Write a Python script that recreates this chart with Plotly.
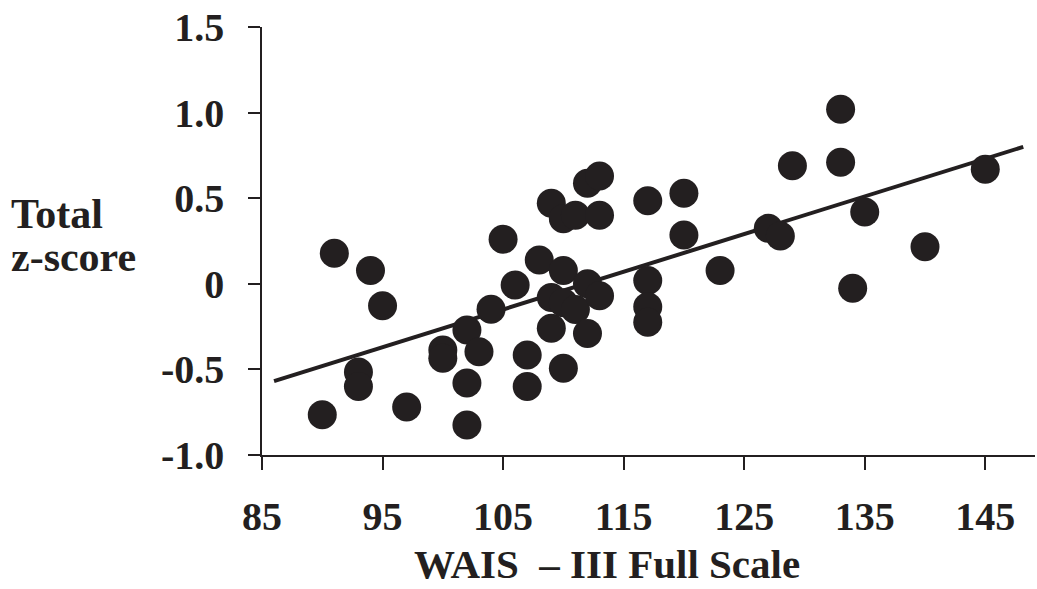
import plotly.graph_objects as go

# Data
wais = [90, 91, 93, 93, 94, 95, 97, 100, 100, 102, 103, 102, 102, 104, 105, 106,
        107, 107, 108, 109, 110, 109, 109, 110, 111, 112, 113, 113, 117, 110, 111,
        112, 113, 112, 110, 117, 117, 117, 120, 120, 123, 127, 128, 129, 133, 133,
        135, 134, 140, 145]
zscore = [-0.765, 0.178, -0.515, -0.60, 0.077, -0.128, -0.72, -0.387, -0.435, -0.27,
          -0.397, -0.58, -0.825, -0.149, 0.26, -0.007, -0.416, -0.60, 0.139, 0.47,
          0.077, -0.08, -0.26, 0.38, 0.40, 0.587, 0.63, 0.40, 0.485, -0.11, -0.15,
          0.0, -0.07, -0.29, -0.494, 0.02, -0.134, -0.225, 0.529, 0.285, 0.077,
          0.324, 0.279, 0.69, 1.019, 0.71, 0.42, -0.026, 0.217, 0.669]

fit_x = [86.0, 148.15]
fit_y = [-0.568, 0.80]

x_ticks = [85, 95, 105, 115, 125, 135, 145]
y_ticks = [-1.0, -0.5, 0.0, 0.5, 1.0, 1.5]
y_tick_labels = ["-1.0", "-0.5", "0", "0.5", "1.0", "1.5"]

INK = "#231f20"
FONT = "Liberation Serif"

fig = go.Figure()
fig.add_trace(go.Scatter(x=fit_x, y=fit_y, mode="lines",
                         line=dict(color=INK, width=4), hoverinfo="skip"))
fig.add_trace(go.Scatter(x=wais, y=zscore, mode="markers",
                         marker=dict(color=INK, size=29, line=dict(width=0))))

L, R, T, B = 262, 2, 27, 134
W, H = 1037, 589
pw, ph = W - L - R, H - T - B

def px(xp):
    return (xp - L) / pw

def py(yp):
    return (H - B - yp) / ph

fig.update_layout(
    width=W, height=H,
    margin=dict(l=L, r=R, t=T, b=B, autoexpand=False),
    paper_bgcolor="white", plot_bgcolor="white",
    showlegend=False,
    font=dict(family=FONT, color=INK),
    xaxis=dict(range=[85, 85 + (1035 - 262.3) / 12.05], tickvals=x_ticks,
               ticktext=[str(v) for v in x_ticks], automargin=False,
               showgrid=False, zeroline=False, showline=True, linecolor=INK, linewidth=1.5,
               ticks="outside", ticklen=13, tickwidth=1.5, tickcolor=INK,
               tickfont=dict(family=FONT, size=40, color=INK, weight="bold"),
               ticklabelstandoff=12),
    yaxis=dict(range=[-1.0, 1.5], tickvals=y_ticks, ticktext=y_tick_labels,
               automargin=False,
               showgrid=False, zeroline=False, showline=True, linecolor=INK, linewidth=1.5,
               ticks="outside", ticklen=12, tickwidth=1.5, tickcolor=INK,
               tickfont=dict(family=FONT, size=40, color=INK, weight="bold"),
               ticklabelstandoff=16),
    annotations=[
        dict(text="<b>Total</b>", xref="paper", yref="paper", x=px(9), y=py(214),
             xanchor="left", yanchor="middle", showarrow=False,
             font=dict(family=FONT, size=42, color=INK)),
        dict(text="<b>z-score</b>", xref="paper", yref="paper", x=px(9), y=py(257),
             xanchor="left", yanchor="middle", showarrow=False,
             font=dict(family=FONT, size=42, color=INK)),
        dict(text="<b>WAIS  \u2013 III Full Scale</b>", xref="paper", yref="paper",
             x=px(607), y=py(564), xanchor="center", yanchor="middle", showarrow=False,
             font=dict(family=FONT, size=41, color=INK)),
    ],
)

fig.write_html("out.html", config={"displayModeBar": False},
               post_script="document.body.style.margin='0';document.body.style.overflow='hidden';")
